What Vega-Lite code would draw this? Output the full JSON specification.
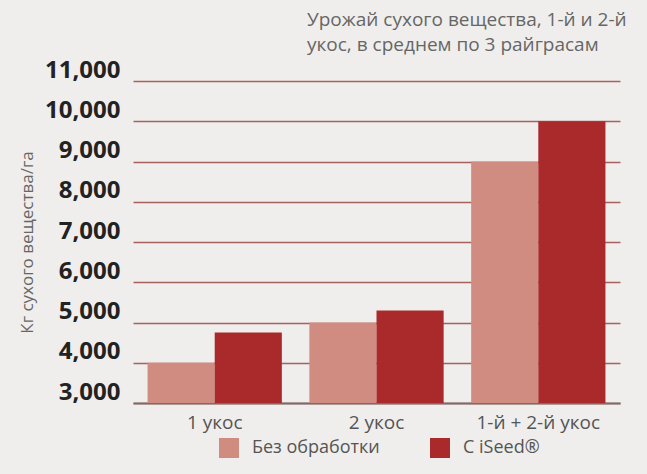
{
  "$schema": "https://vega.github.io/schema/vega-lite/v6.json",
  "width": 487,
  "height": 322,
  "autosize": {"type": "none"},
  "padding": {"left": 133, "top": 81, "right": 27, "bottom": 71},
  "background": "#efeeec",
  "title": {
    "text": ["Урожай сухого вещества, 1-й и 2-й", "укос, в среднем по 3 райграсам"],
    "anchor": "start",
    "frame": "group",
    "dx": 174,
    "offset": 3,
    "font": "Open Sans",
    "fontSize": 19,
    "fontWeight": "normal",
    "color": "#666666",
    "lineHeight": 25
  },
  "data": {
    "values": [
      {"group": "1 укос", "treatment": "Без обработки", "value": 4000},
      {"group": "1 укос", "treatment": "С iSeed®", "value": 4750},
      {"group": "2 укос", "treatment": "Без обработки", "value": 5000},
      {"group": "2 укос", "treatment": "С iSeed®", "value": 5300},
      {"group": "1-й + 2-й укос", "treatment": "Без обработки", "value": 9000},
      {"group": "1-й + 2-й укос", "treatment": "С iSeed®", "value": 10000}
    ]
  },
  "mark": {"type": "bar", "clip": true},
  "encoding": {
    "x": {
      "field": "group",
      "type": "nominal",
      "sort": ["1 укос", "2 укос", "1-й + 2-й укос"],
      "scale": {"paddingInner": 0.17, "paddingOuter": 0.09},
      "axis": {
        "title": null,
        "labelAngle": 0,
        "ticks": false,
        "domain": true,
        "domainColor": "#7a6e6c",
        "domainWidth": 2,
        "labelPadding": 10,
        "labelFont": "Open Sans",
        "labelFontSize": 19,
        "labelColor": "#555555",
        "grid": false
      }
    },
    "xOffset": {
      "field": "treatment",
      "type": "nominal",
      "sort": ["Без обработки", "С iSeed®"],
      "scale": {"paddingInner": 0, "paddingOuter": 0}
    },
    "y": {
      "field": "value",
      "type": "quantitative",
      "scale": {"domain": [3000, 11000], "zero": false, "nice": false},
      "axis": {
        "title": "Кг сухого вещества/га",
        "titleFont": "Open Sans",
        "titleFontSize": 17,
        "titleFontWeight": "normal",
        "titleColor": "#666666",
        "titlePadding": 8,
        "values": [3000, 4000, 5000, 6000, 7000, 8000, 9000, 10000, 11000],
        "format": ",.0f",
        "ticks": false,
        "domain": false,
        "labelPadding": 13,
        "labelFont": "Open Sans",
        "labelFontSize": 24,
        "labelFontWeight": "bold",
        "labelColor": "#222222",
        "labelBaseline": "alphabetic",
        "labelOffset": -4,
        "grid": true,
        "gridColor": "#a8625e",
        "gridWidth": 1.6,
        "gridOpacity": 1
      }
    },
    "color": {
      "field": "treatment",
      "type": "nominal",
      "sort": ["Без обработки", "С iSeed®"],
      "scale": {"range": ["#d08c80", "#aa2a2c"]},
      "legend": {
        "title": null,
        "orient": "none",
        "direction": "horizontal",
        "legendX": 86,
        "legendY": 357,
        "padding": 0,
        "symbolType": "square",
        "symbolSize": 400,
        "symbolStrokeWidth": 0,
        "symbolOpacity": 1,
        "labelFont": "Open Sans",
        "labelFontSize": 18,
        "labelColor": "#555555",
        "labelOffset": 13,
        "columnPadding": 50
      }
    }
  },
  "config": {
    "view": {"stroke": null},
    "font": "Open Sans"
  }
}
